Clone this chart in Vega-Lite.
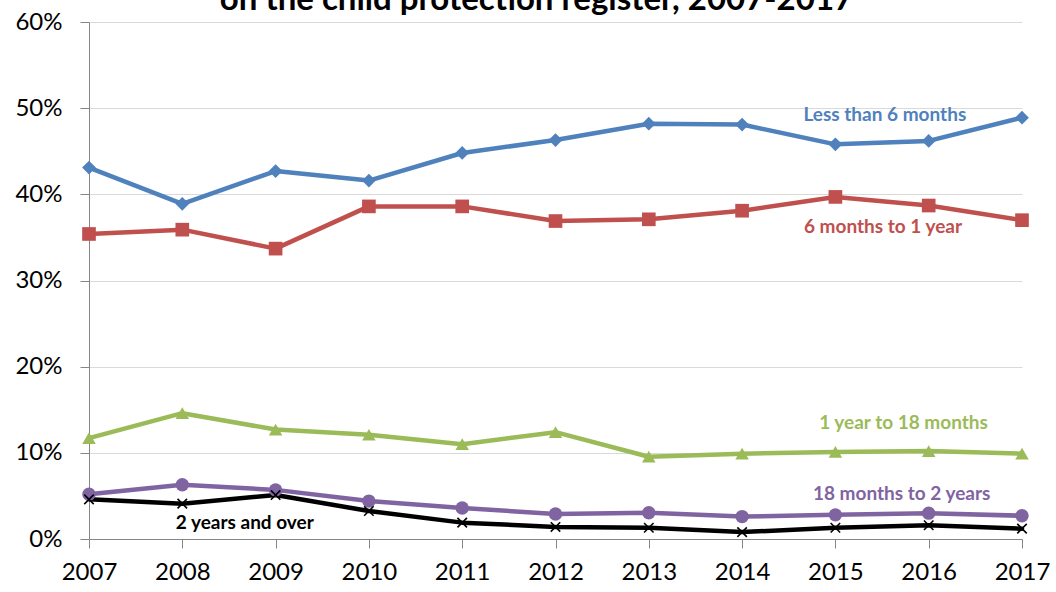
{
  "$schema": "https://vega.github.io/schema/vega-lite/v6.json",
  "width": 933,
  "height": 517,
  "autosize": {"type": "none"},
  "padding": {"left": 89, "top": 22, "right": 34, "bottom": 53},
  "background": "white",
  "config": {"view": {"stroke": null}, "font": "Lato"},
  "title": {
    "text": "on the child protection register, 2007-2017",
    "font": "Lato",
    "fontSize": 33,
    "fontWeight": "bold",
    "color": "#000000",
    "anchor": "middle",
    "frame": "group",
    "baseline": "alphabetic",
    "offset": 10,
    "dy": 43,
    "dx": -19
  },
  "datasets": {
    "series": [
      {"year": 2007, "series": "Less than 6 months", "value": 43.1},
      {"year": 2008, "series": "Less than 6 months", "value": 38.9},
      {"year": 2009, "series": "Less than 6 months", "value": 42.7},
      {"year": 2010, "series": "Less than 6 months", "value": 41.6},
      {"year": 2011, "series": "Less than 6 months", "value": 44.8},
      {"year": 2012, "series": "Less than 6 months", "value": 46.3},
      {"year": 2013, "series": "Less than 6 months", "value": 48.2},
      {"year": 2014, "series": "Less than 6 months", "value": 48.1},
      {"year": 2015, "series": "Less than 6 months", "value": 45.8},
      {"year": 2016, "series": "Less than 6 months", "value": 46.2},
      {"year": 2017, "series": "Less than 6 months", "value": 48.9},
      {"year": 2007, "series": "6 months to 1 year", "value": 35.4},
      {"year": 2008, "series": "6 months to 1 year", "value": 35.9},
      {"year": 2009, "series": "6 months to 1 year", "value": 33.7},
      {"year": 2010, "series": "6 months to 1 year", "value": 38.6},
      {"year": 2011, "series": "6 months to 1 year", "value": 38.6},
      {"year": 2012, "series": "6 months to 1 year", "value": 36.9},
      {"year": 2013, "series": "6 months to 1 year", "value": 37.1},
      {"year": 2014, "series": "6 months to 1 year", "value": 38.1},
      {"year": 2015, "series": "6 months to 1 year", "value": 39.7},
      {"year": 2016, "series": "6 months to 1 year", "value": 38.7},
      {"year": 2017, "series": "6 months to 1 year", "value": 37.0},
      {"year": 2007, "series": "1 year to 18 months", "value": 11.7},
      {"year": 2008, "series": "1 year to 18 months", "value": 14.6},
      {"year": 2009, "series": "1 year to 18 months", "value": 12.7},
      {"year": 2010, "series": "1 year to 18 months", "value": 12.1},
      {"year": 2011, "series": "1 year to 18 months", "value": 11.0},
      {"year": 2012, "series": "1 year to 18 months", "value": 12.4},
      {"year": 2013, "series": "1 year to 18 months", "value": 9.55},
      {"year": 2014, "series": "1 year to 18 months", "value": 9.9},
      {"year": 2015, "series": "1 year to 18 months", "value": 10.1},
      {"year": 2016, "series": "1 year to 18 months", "value": 10.2},
      {"year": 2017, "series": "1 year to 18 months", "value": 9.9},
      {"year": 2007, "series": "18 months to 2 years", "value": 5.2},
      {"year": 2008, "series": "18 months to 2 years", "value": 6.3},
      {"year": 2009, "series": "18 months to 2 years", "value": 5.7},
      {"year": 2010, "series": "18 months to 2 years", "value": 4.4},
      {"year": 2011, "series": "18 months to 2 years", "value": 3.6},
      {"year": 2012, "series": "18 months to 2 years", "value": 2.9},
      {"year": 2013, "series": "18 months to 2 years", "value": 3.05},
      {"year": 2014, "series": "18 months to 2 years", "value": 2.6},
      {"year": 2015, "series": "18 months to 2 years", "value": 2.8},
      {"year": 2016, "series": "18 months to 2 years", "value": 3.0},
      {"year": 2017, "series": "18 months to 2 years", "value": 2.7},
      {"year": 2007, "series": "2 years and over", "value": 4.6},
      {"year": 2008, "series": "2 years and over", "value": 4.1},
      {"year": 2009, "series": "2 years and over", "value": 5.1},
      {"year": 2010, "series": "2 years and over", "value": 3.25},
      {"year": 2011, "series": "2 years and over", "value": 1.9},
      {"year": 2012, "series": "2 years and over", "value": 1.4},
      {"year": 2013, "series": "2 years and over", "value": 1.3},
      {"year": 2014, "series": "2 years and over", "value": 0.8},
      {"year": 2015, "series": "2 years and over", "value": 1.3},
      {"year": 2016, "series": "2 years and over", "value": 1.6},
      {"year": 2017, "series": "2 years and over", "value": 1.2}
    ],
    "labels": [
      {"year": 2015.53, "value": 49.2, "series": "Less than 6 months"},
      {"year": 2015.51, "value": 36.2, "series": "6 months to 1 year"},
      {"year": 2015.73, "value": 13.5, "series": "1 year to 18 months"},
      {"year": 2015.71, "value": 5.2, "series": "18 months to 2 years"},
      {"year": 2008.67, "value": 1.86, "series": "2 years and over"}
    ]
  },
  "layer": [
    {
      "data": {"name": "series"},
      "mark": {"type": "line", "strokeCap": "round", "strokeJoin": "round"},
      "encoding": {
        "x": {
          "field": "year", "type": "quantitative",
          "scale": {"domain": [2007, 2017], "nice": false, "zero": false},
          "axis": {
            "title": null, "values": [2007, 2008, 2009, 2010, 2011, 2012, 2013, 2014, 2015, 2016, 2017],
            "format": "d", "grid": false, "domainColor": "#868686", "domainWidth": 1,
            "tickColor": "#868686", "tickSize": 9, "tickWidth": 1,
            "labelFont": "Lato", "labelFontSize": 24, "labelColor": "#000000",
            "labelPadding": 12, "labelFlush": false
          }
        },
        "y": {
          "field": "value", "type": "quantitative",
          "scale": {"domain": [0, 60], "nice": false},
          "axis": {
            "title": null, "values": [0, 10, 20, 30, 40, 50, 60],
            "labelExpr": "datum.value + '%'",
            "grid": true, "gridColor": "#D9D9D9", "gridWidth": 1,
            "domainColor": "#868686", "domainWidth": 1,
            "tickColor": "#868686", "tickSize": 9, "tickWidth": 1,
            "labelFont": "Lato", "labelFontSize": 24, "labelColor": "#000000",
            "labelPadding": 18
          }
        },
        "color": {
          "field": "series", "type": "nominal",
          "scale": {
            "domain": ["Less than 6 months", "6 months to 1 year", "1 year to 18 months", "18 months to 2 years", "2 years and over"],
            "range": ["#4F81BD", "#C0504D", "#9BBB59", "#8064A2", "#000000"]
          },
          "legend": null
        },
        "strokeWidth": {
          "field": "series", "type": "nominal",
          "scale": {
            "domain": ["Less than 6 months", "6 months to 1 year", "1 year to 18 months", "18 months to 2 years", "2 years and over"],
            "range": [4.5, 4.5, 4.5, 3.2, 3.2]
          },
          "legend": null
        },
        "order": {"field": "year", "type": "quantitative"}
      }
    },
    {
      "data": {"name": "series"},
      "transform": [{"filter": "datum.series !== '2 years and over'"}],
      "mark": {"type": "point", "filled": true, "opacity": 1},
      "encoding": {
        "x": {"field": "year", "type": "quantitative"},
        "y": {"field": "value", "type": "quantitative"},
        "color": {"field": "series", "type": "nominal", "legend": null},
        "shape": {
          "field": "series", "type": "nominal",
          "scale": {
            "domain": ["Less than 6 months", "6 months to 1 year", "1 year to 18 months", "18 months to 2 years"],
            "range": ["diamond", "square", "triangle-up", "circle"]
          },
          "legend": null
        },
        "size": {
          "field": "series", "type": "nominal",
          "scale": {
            "domain": ["Less than 6 months", "6 months to 1 year", "1 year to 18 months", "18 months to 2 years"],
            "range": [190, 180, 160, 120]
          },
          "legend": null
        }
      }
    },
    {
      "data": {"name": "series"},
      "transform": [{"filter": "datum.series === '2 years and over'"}],
      "mark": {"type": "point", "filled": false, "opacity": 1, "shape": "M-1,-1L1,1M1,-1L-1,1", "size": 90, "strokeWidth": 1.6, "color": "#000000"},
      "encoding": {
        "x": {"field": "year", "type": "quantitative"},
        "y": {"field": "value", "type": "quantitative"}
      }
    },
    {
      "data": {"name": "labels"},
      "mark": {"type": "text", "font": "Lato", "fontSize": 19, "fontWeight": "bold", "align": "center", "baseline": "middle"},
      "encoding": {
        "x": {"field": "year", "type": "quantitative"},
        "y": {"field": "value", "type": "quantitative"},
        "text": {"field": "series", "type": "nominal"},
        "color": {"field": "series", "type": "nominal", "legend": null}
      }
    }
  ]
}
